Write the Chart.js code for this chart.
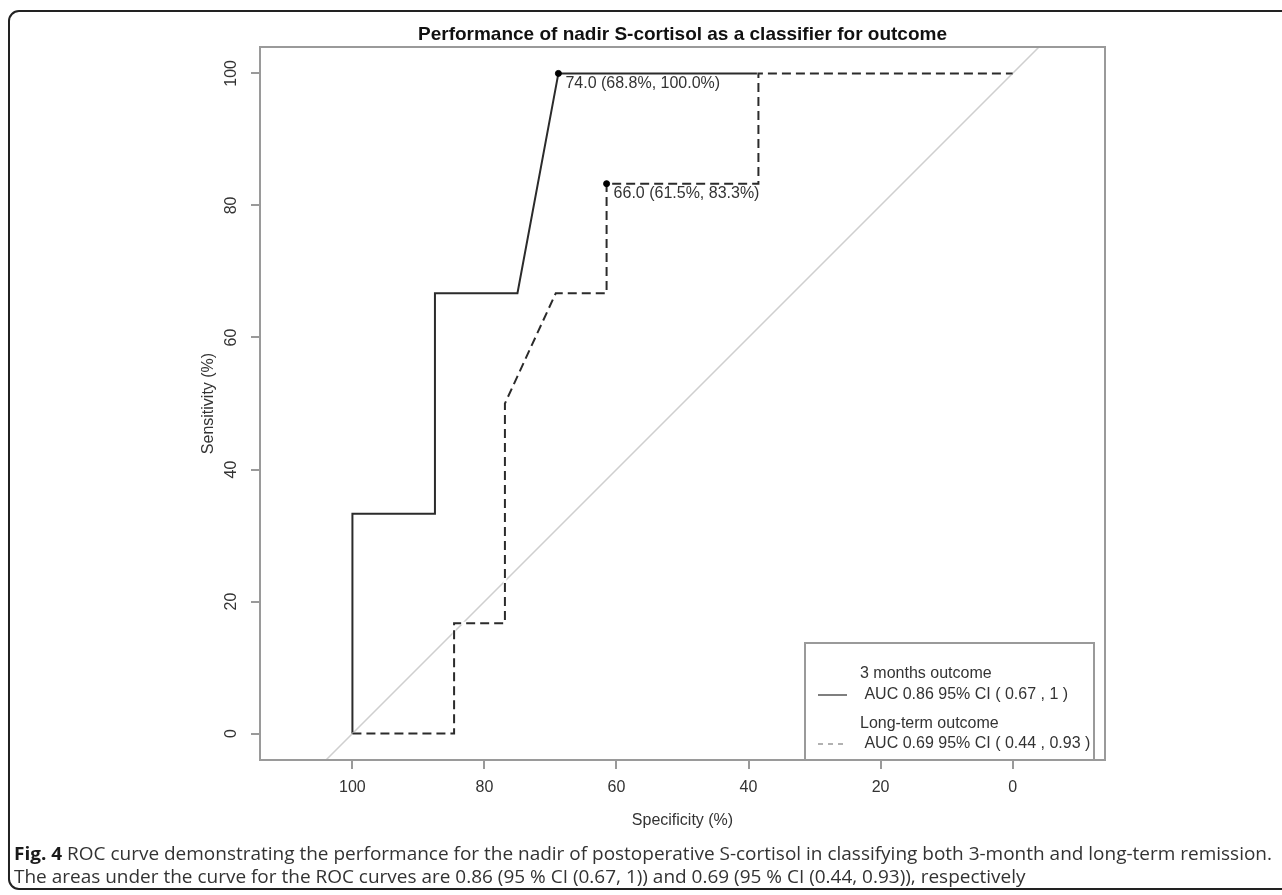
<!DOCTYPE html>
<html>
<head>
<meta charset="utf-8">
<title>ROC nadir S-cortisol</title>
<script src="https://cdn.jsdelivr.net/npm/chart.js@4.4.1/dist/chart.umd.min.js"></script>
<style>
    html, body { margin: 0; padding: 0; background: #ffffff; }
    .chart-container { position: relative; width: 1282px; height: 895px; }
</style>
</head>
<body>
<div class="chart-container"><canvas id="rocChart"></canvas></div>
<script>
// ==========================================================
// 1. DỮ LIỆU
// ==========================================================

const months3Spec = [100, 100, 87.5, 87.5, 75, 68.8, 0];
const months3Sens = [0, 33.3, 33.3, 66.7, 66.7, 100, 100];

const longSpec = [100, 84.6, 84.6, 76.9, 76.9, 69.2, 61.5, 61.5, 38.5, 38.5, 0];
const longSens = [0, 0, 16.7, 16.7, 50, 66.7, 66.7, 83.3, 83.3, 100, 100];

const bestSpec = [68.8, 61.5];
const bestSens = [100, 83.3];
const bestLabels = ['74.0 (68.8%, 100.0%)', '66.0 (61.5%, 83.3%)'];

const xTicks = [100, 80, 60, 40, 20, 0];
const yTicks = [0, 20, 40, 60, 80, 100];

const legendTitles = ['3 months outcome', 'Long-term outcome'];
const legendAuc = [' AUC 0.86 95% CI ( 0.67 , 1 )', ' AUC 0.69 95% CI ( 0.44 , 0.93 )'];

const chartTitle = 'Performance of nadir S-cortisol as a classifier for outcome';
const captionBold = 'Fig. 4';
const captionLine1 = ' ROC curve demonstrating the performance for the nadir of postoperative S-cortisol in classifying both 3-month and long-term remission.';
const captionLine2 = 'The areas under the curve for the ROC curves are 0.86 (95 % CI (0.67, 1)) and 0.69 (95 % CI (0.44, 0.93)), respectively';

const FONT = '"Liberation Sans", Arial, Helvetica, sans-serif';
const TEXT_COLOR = '#333333';

function toPoints(xs, ys) {
    return xs.map((x, i) => ({ x: x, y: ys[i] }));
}

// ==========================================================
// 2. PLUGIN VẼ CÁC PHẦN KIỂU R (đường chéo, khung, chú giải, chú thích)
// ==========================================================

const rocDecorations = {
    id: 'rocDecorations',

    beforeDatasetsDraw(chart) {
        // đường chéo tham chiếu (sens = 100 - spec), cắt theo vùng vẽ
        const { ctx, chartArea, scales: { x, y } } = chart;
        ctx.save();
        ctx.beginPath();
        ctx.rect(chartArea.left, chartArea.top, chartArea.right - chartArea.left, chartArea.bottom - chartArea.top);
        ctx.clip();
        ctx.strokeStyle = '#cfcfcf';
        ctx.lineWidth = 1.5;
        ctx.beginPath();
        ctx.moveTo(x.getPixelForValue(x.max), y.getPixelForValue(100 - x.max));
        ctx.lineTo(x.getPixelForValue(x.min), y.getPixelForValue(100 - x.min));
        ctx.stroke();
        ctx.restore();
    },

    beforeDatasetDraw(chart, args) {
        // phần nét đứt che nét liền bên dưới (giống ảnh gốc)
        if (args.index !== 1) return;
        const { ctx } = chart;
        const pts = args.meta.data;
        ctx.save();
        ctx.strokeStyle = '#ffffff';
        ctx.lineWidth = 3;
        ctx.beginPath();
        pts.forEach((p, i) => (i === 0 ? ctx.moveTo(p.x, p.y) : ctx.lineTo(p.x, p.y)));
        ctx.stroke();
        ctx.restore();
    },

    afterDatasetsDraw(chart) {
        const { ctx, chartArea, scales: { x, y } } = chart;
        ctx.save();

        // nhãn ngưỡng tốt nhất
        ctx.font = '16px ' + FONT;
        ctx.fillStyle = TEXT_COLOR;
        ctx.textAlign = 'left';
        ctx.textBaseline = 'middle';
        bestLabels.forEach((label, i) => {
            const px = x.getPixelForValue(bestSpec[i]);
            const py = y.getPixelForValue(bestSens[i]);
            ctx.fillText(label, px + 7, py + 10);
        });

        // khung vùng vẽ
        ctx.strokeStyle = '#9a9a9a';
        ctx.lineWidth = 2;
        ctx.strokeRect(chartArea.left, chartArea.top, chartArea.right - chartArea.left, chartArea.bottom - chartArea.top);

        // chú giải
        const lx = 805, ly = 643, lw = chartArea.right - 11 - lx, lh = chartArea.bottom - ly;
        ctx.fillStyle = '#ffffff';
        ctx.fillRect(lx, ly, lw, lh);
        ctx.strokeStyle = '#9a9a9a';
        ctx.lineWidth = 2;
        ctx.strokeRect(lx, ly, lw, lh);

        const rows = [[674, 695], [724, 744]];
        ctx.fillStyle = TEXT_COLOR;
        ctx.font = '16px ' + FONT;
        legendTitles.forEach((t, i) => {
            ctx.fillText(t, 860, rows[i][0]);
            ctx.fillText(legendAuc[i], 860, rows[i][1]);
            ctx.beginPath();
            ctx.strokeStyle = i === 0 ? '#555555' : '#999999';
            ctx.lineWidth = 1.5;
            ctx.setLineDash(i === 0 ? [] : [5, 5]);
            ctx.moveTo(818, rows[i][1]);
            ctx.lineTo(847, rows[i][1]);
            ctx.stroke();
        });
        ctx.setLineDash([]);
        ctx.restore();
    },

    afterDraw(chart) {
        const { ctx, scales: { y } } = chart;
        ctx.save();

        // nhãn trục y xoay dọc (kiểu R)
        ctx.font = '16px ' + FONT;
        ctx.fillStyle = TEXT_COLOR;
        ctx.textAlign = 'center';
        ctx.textBaseline = 'middle';
        y.ticks.forEach(t => {
            ctx.save();
            ctx.translate(232, y.getPixelForValue(t.value));
            ctx.rotate(-Math.PI / 2);
            ctx.fillText(String(t.value), 0, 0);
            ctx.restore();
        });

        // khung bo tròn bên ngoài
        ctx.strokeStyle = '#222222';
        ctx.lineWidth = 2;
        ctx.beginPath();
        ctx.roundRect(9, 11, 1300, 878, 10);
        ctx.stroke();

        // chú thích hình
        const capFont = '"Open Sans", "Noto Sans", sans-serif';
        ctx.textAlign = 'left';
        ctx.textBaseline = 'middle';
        ctx.font = 'bold 18px ' + capFont;
        const boldW = ctx.measureText(captionBold).width;
        ctx.font = '18px ' + capFont;
        const restW = ctx.measureText(captionLine1).width;
        const sx = 1258 / (boldW + restW);

        ctx.save();
        ctx.translate(14, 855);
        ctx.scale(sx, 1);
        ctx.fillStyle = '#1a1a1a';
        ctx.font = 'bold 18px ' + capFont;
        ctx.fillText(captionBold, 0, 0);
        ctx.fillStyle = TEXT_COLOR;
        ctx.font = '18px ' + capFont;
        ctx.fillText(captionLine1, boldW, 0);
        ctx.fillText(captionLine2, 0, 23);
        ctx.restore();

        ctx.restore();
    }
};

// ==========================================================
// 3. VẼ BIỂU ĐỒ ROC
// ==========================================================

function renderRocChart() {
    const ctx = document.getElementById('rocChart').getContext('2d');

    new Chart(ctx, {
        type: 'scatter',
        data: {
            datasets: [
                {
                    label: legendTitles[0],
                    data: toPoints(months3Spec, months3Sens),
                    showLine: true,
                    borderColor: '#2b2b2b',
                    borderWidth: 2,
                    pointRadius: 0,
                    tension: 0,
                    order: 3
                },
                {
                    label: legendTitles[1],
                    data: toPoints(longSpec, longSens),
                    showLine: true,
                    borderColor: '#2b2b2b',
                    borderWidth: 2,
                    borderDash: [9, 5],
                    pointRadius: 0,
                    tension: 0,
                    order: 2
                },
                {
                    label: 'best',
                    data: toPoints(bestSpec, bestSens),
                    showLine: false,
                    pointRadius: 3,
                    pointBackgroundColor: '#000000',
                    pointBorderColor: '#000000',
                    order: 1
                }
            ]
        },
        options: {
            responsive: true,
            maintainAspectRatio: false,
            animation: false,
            layout: { padding: { left: 0, top: 0, right: 177, bottom: 35 } },
            plugins: {
                legend: { display: false },
                tooltip: { enabled: false },
                title: {
                    display: true,
                    text: chartTitle,
                    fullSize: false,
                    color: '#111111',
                    font: { family: FONT, size: 19, weight: 'bold' },
                    padding: { top: 23.5, bottom: 0.7 }
                }
            },
            scales: {
                x: {
                    type: 'linear',
                    reverse: true,
                    min: -14,
                    max: 114,
                    afterBuildTicks: scale => { scale.ticks = xTicks.map(v => ({ value: v })); },
                    afterFit: scale => { scale.height = 100; },
                    grid: { display: true, drawOnChartArea: false, drawTicks: true, tickLength: 9, color: '#9a9a9a', lineWidth: 2 },
                    border: { display: false },
                    ticks: { color: TEXT_COLOR, font: { family: FONT, size: 16 }, padding: 9, maxRotation: 0 },
                    title: { display: true, text: 'Specificity (%)', color: TEXT_COLOR, font: { family: FONT, size: 16 }, padding: { top: 0, bottom: 30 } }
                },
                y: {
                    type: 'linear',
                    min: -4,
                    max: 104,
                    afterBuildTicks: scale => { scale.ticks = yTicks.map(v => ({ value: v })); },
                    afterFit: scale => { scale.width = 260; },
                    grid: { display: true, drawOnChartArea: false, drawTicks: true, tickLength: 9, color: '#9a9a9a', lineWidth: 2 },
                    border: { display: false },
                    ticks: { display: false },
                    title: { display: true, text: 'Sensitivity (%)', color: TEXT_COLOR, font: { family: FONT, size: 16 }, padding: { top: 199, bottom: 0 } }
                }
            }
        },
        plugins: [rocDecorations]
    });
}

document.addEventListener('DOMContentLoaded', renderRocChart);
</script>
</body>
</html>
